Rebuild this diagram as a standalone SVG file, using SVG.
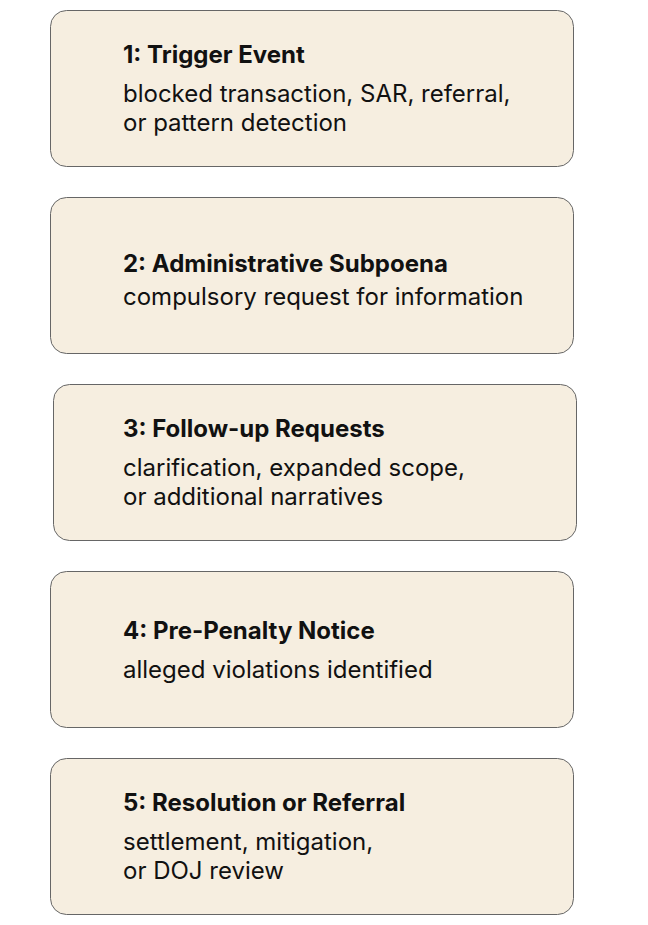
<svg xmlns="http://www.w3.org/2000/svg" width="648" height="925" viewBox="0 0 648 925">
<style>
.box{fill:#F6EEE0;stroke:#666;stroke-width:1}
.t{font-family:Inter,"Liberation Sans",sans-serif;font-size:24px;font-weight:700;fill:#111}
.b{font-family:Inter,"Liberation Sans",sans-serif;font-size:24px;font-weight:400;fill:#111}
</style>
<rect width="648" height="925" fill="#fff"/>
<g id="connectors"></g>
<g id="node1">
<rect class="box" x="50.5" y="10.5" width="523" height="156" rx="16"/>
<text class="t" x="123" y="63">1: Trigger Event</text>
<text class="b" x="123" y="102">blocked transaction, SAR, referral,</text>
<text class="b" x="123" y="131">or pattern detection</text>
</g>
<g id="node2">
<rect class="box" x="50.5" y="197.5" width="523" height="156" rx="16"/>
<text class="t" x="123" y="272">2: Administrative Subpoena</text>
<text class="b" x="123" y="305">compulsory request for information</text>
</g>
<g id="node3">
<rect class="box" x="53.5" y="384.5" width="523" height="156" rx="16"/>
<text class="t" x="123" y="437">3: Follow-up Requests</text>
<text class="b" x="123" y="476">clarification, expanded scope,</text>
<text class="b" x="123" y="505">or additional narratives</text>
</g>
<g id="node4">
<rect class="box" x="50.5" y="571.5" width="523" height="156" rx="16"/>
<text class="t" x="123" y="639">4: Pre-Penalty Notice</text>
<text class="b" x="123" y="678">alleged violations identified</text>
</g>
<g id="node5">
<rect class="box" x="50.5" y="758.5" width="523" height="156" rx="16"/>
<text class="t" x="123" y="811">5: Resolution or Referral</text>
<text class="b" x="123" y="850">settlement, mitigation,</text>
<text class="b" x="123" y="879">or DOJ review</text>
</g>
</svg>
